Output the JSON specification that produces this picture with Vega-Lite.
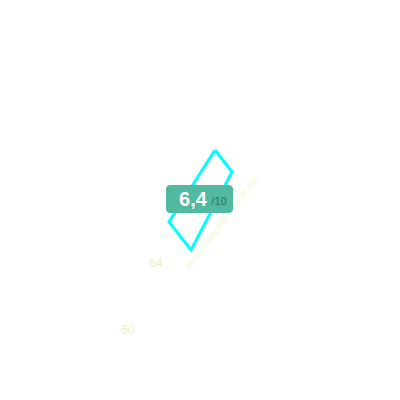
{
  "$schema": "https://vega.github.io/schema/vega-lite/v6.json",
  "width": 400,
  "height": 400,
  "padding": 0,
  "autosize": {"type": "fit", "contains": "padding"},
  "background": "white",
  "view": {"stroke": null},
  "datasets": {
    "poly": [
      {"i": 0, "x": 15, "y": 50},
      {"i": 1, "x": 32, "y": 28},
      {"i": 2, "x": -9, "y": -50},
      {"i": 3, "x": -31, "y": -22},
      {"i": 4, "x": 15, "y": 50}
    ],
    "box": [{"x1": -34, "x2": 33, "y1": 15, "y2": -13}],
    "score": [{"x": -7, "y": 0, "t": "6,4"}],
    "outof": [{"x": 19, "y": -2, "t": "/10"}],
    "ticks": [
      {"x": -44, "y": -63, "t": "64"},
      {"x": -72, "y": -130, "t": "60"}
    ],
    "title": [{"x": 22, "y": -22, "t": "Maatschappelijk waarde aan"}]
  },
  "encoding": {
    "x": {"type": "quantitative", "scale": {"domain": [-200, 200]}, "axis": null},
    "y": {"type": "quantitative", "scale": {"domain": [-200, 200]}, "axis": null}
  },
  "layer": [
    {
      "data": {"name": "ticks"},
      "mark": {"type": "text", "fontSize": 12, "font": "Liberation Sans", "color": "#e6f5c4"},
      "encoding": {"x": {"field": "x"}, "y": {"field": "y"}, "text": {"field": "t"}}
    },
    {
      "data": {"name": "title"},
      "mark": {"type": "text", "fontSize": 9, "font": "Liberation Sans", "color": "#f0f8d2", "angle": -53},
      "encoding": {"x": {"field": "x"}, "y": {"field": "y"}, "text": {"field": "t"}}
    },
    {
      "data": {"name": "poly"},
      "mark": {"type": "line", "color": "#00ffff", "strokeWidth": 3, "strokeJoin": "miter"},
      "encoding": {"x": {"field": "x"}, "y": {"field": "y"}, "order": {"field": "i"}}
    },
    {
      "data": {"name": "box"},
      "mark": {"type": "rect", "color": "#52b9a0", "cornerRadius": 4},
      "encoding": {"x": {"field": "x1"}, "x2": {"field": "x2"}, "y": {"field": "y1"}, "y2": {"field": "y2"}}
    },
    {
      "data": {"name": "score"},
      "mark": {"type": "text", "fontSize": 20, "fontWeight": "bold", "font": "Liberation Sans", "color": "white"},
      "encoding": {"x": {"field": "x"}, "y": {"field": "y"}, "text": {"field": "t"}}
    },
    {
      "data": {"name": "outof"},
      "mark": {"type": "text", "fontSize": 11, "font": "Liberation Sans", "color": "#2f6e5e"},
      "encoding": {"x": {"field": "x"}, "y": {"field": "y"}, "text": {"field": "t"}}
    }
  ]
}
